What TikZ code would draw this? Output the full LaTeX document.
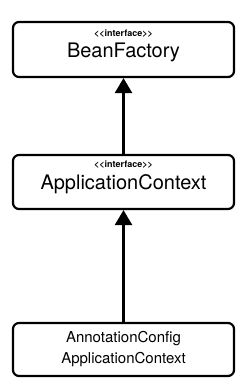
\documentclass[tikz,border=0pt]{standalone}
\usepackage{fontspec}
\setmainfont{TeX Gyre Heros}
\usepackage{tikz}
\usetikzlibrary{arrows.meta,positioning}

\begin{document}
\begin{tikzpicture}[
    x=1pt, y=-1pt,
    box/.style={rectangle, draw, line width=2.2pt, rounded corners=6pt, minimum width=221pt, align=center, inner sep=0pt},
    stereo/.style={font=\fontsize{9}{9}\selectfont\bfseries},
    arrow/.style={-{Triangle[length=15pt,width=17pt]}, line width=2.6pt}
]
\useasboundingbox[fill=white] (0,0) rectangle (246,385);

\node[box, minimum height=55pt] (beanfactory) at (123.5,49.5) {};
\node[stereo] (bfstereo) at (123.5,34) {{<}{<}interface{>}{>}};
\node[font=\fontsize{20}{20}\selectfont] (bftitle) at (123.5,52) {BeanFactory};

\node[box, minimum height=54pt] (appcontext) at (123.5,182) {};
\node[stereo] (acstereo) at (123.5,165) {{<}{<}interface{>}{>}};
\node[font=\fontsize{20}{20}\selectfont] (actitle) at (123.5,184) {ApplicationContext};

\node[box, minimum height=53pt, font=\fontsize{15}{21}\selectfont] (annotation) at (123.5,349.5) {AnnotationConfig\\ApplicationContext};

\draw[arrow] (appcontext) -- (beanfactory);
\draw[arrow] (annotation) -- (appcontext);

\end{tikzpicture}
\end{document}
